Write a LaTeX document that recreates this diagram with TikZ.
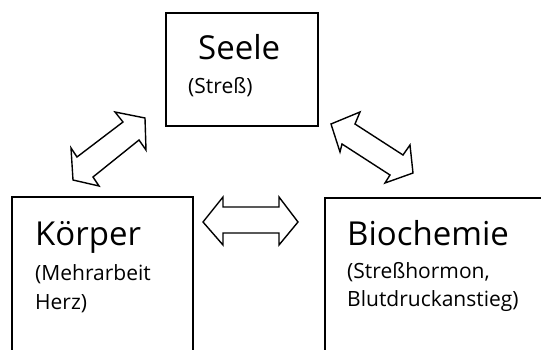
\documentclass[tikz,border=0pt]{standalone}
\usepackage{fontspec}
\setmainfont{Open Sans}
\begin{document}
\begin{tikzpicture}[x=1pt,y=-1pt,
  box/.style={draw=black,line width=1.6pt,fill=none},
  blockarrow/.style={draw=black,line width=1.4pt,fill=white,line join=miter},
  big/.style={inner sep=0pt,anchor=base west,font=\fontsize{33}{36}\selectfont},
  small/.style={inner sep=0pt,anchor=base west,font=\fontsize{21}{24}\selectfont}]
\useasboundingbox (0,0) rectangle (541,350);
\clip (0,0) rectangle (541,350);
% boxes
\coordinate (seeleNW) at (166,13);
\coordinate (seeleSE) at (318,126);
\coordinate (koerperNW) at (12,197);
\coordinate (koerperSE) at (193,370);
\coordinate (bioNW) at (325,198);
\coordinate (bioSE) at (570,370);
\draw[box] (seeleNW) rectangle (seeleSE);
\draw[box] (koerperNW) rectangle (koerperSE);
\draw[box] (bioNW) rectangle (bioSE);
% texts
\node[big] (seele) at (198,60) {Seele};
\node[small] (stress) at (188,94) {(Streß)};
\node[big] (koerper) at (35,245) {Körper};
\node[small] (mehr) at (35,280) {(Mehrarbeit};
\node[small] (herz) at (35,309) {Herz)};
\node[big] (bio) at (347,245) {Biochemie};
\node[small] (hormon) at (347,278) {(Streßhormon,};
\node[small] (blut) at (347,306) {Blutdruckanstieg)};
% block arrows
\draw[blockarrow] (145,118) -- (146,150) -- (139,140) -- (93,177) -- (99,186)
  -- (73,180) -- (71,148) -- (77,157) -- (123,122) -- (115,112) -- cycle;
\draw[blockarrow] (331,124) -- (360,112) -- (355,124) -- (403,155) -- (410,145)
  -- (413,173) -- (385,183) -- (390,175) -- (342,144) -- (340,152) -- cycle;
\draw[blockarrow] (203,222) -- (223,197) -- (223,207) -- (279,207) -- (279,197)
  -- (298,222) -- (279,245) -- (279,233) -- (223,233) -- (223,245) -- cycle;
\end{tikzpicture}
\end{document}
